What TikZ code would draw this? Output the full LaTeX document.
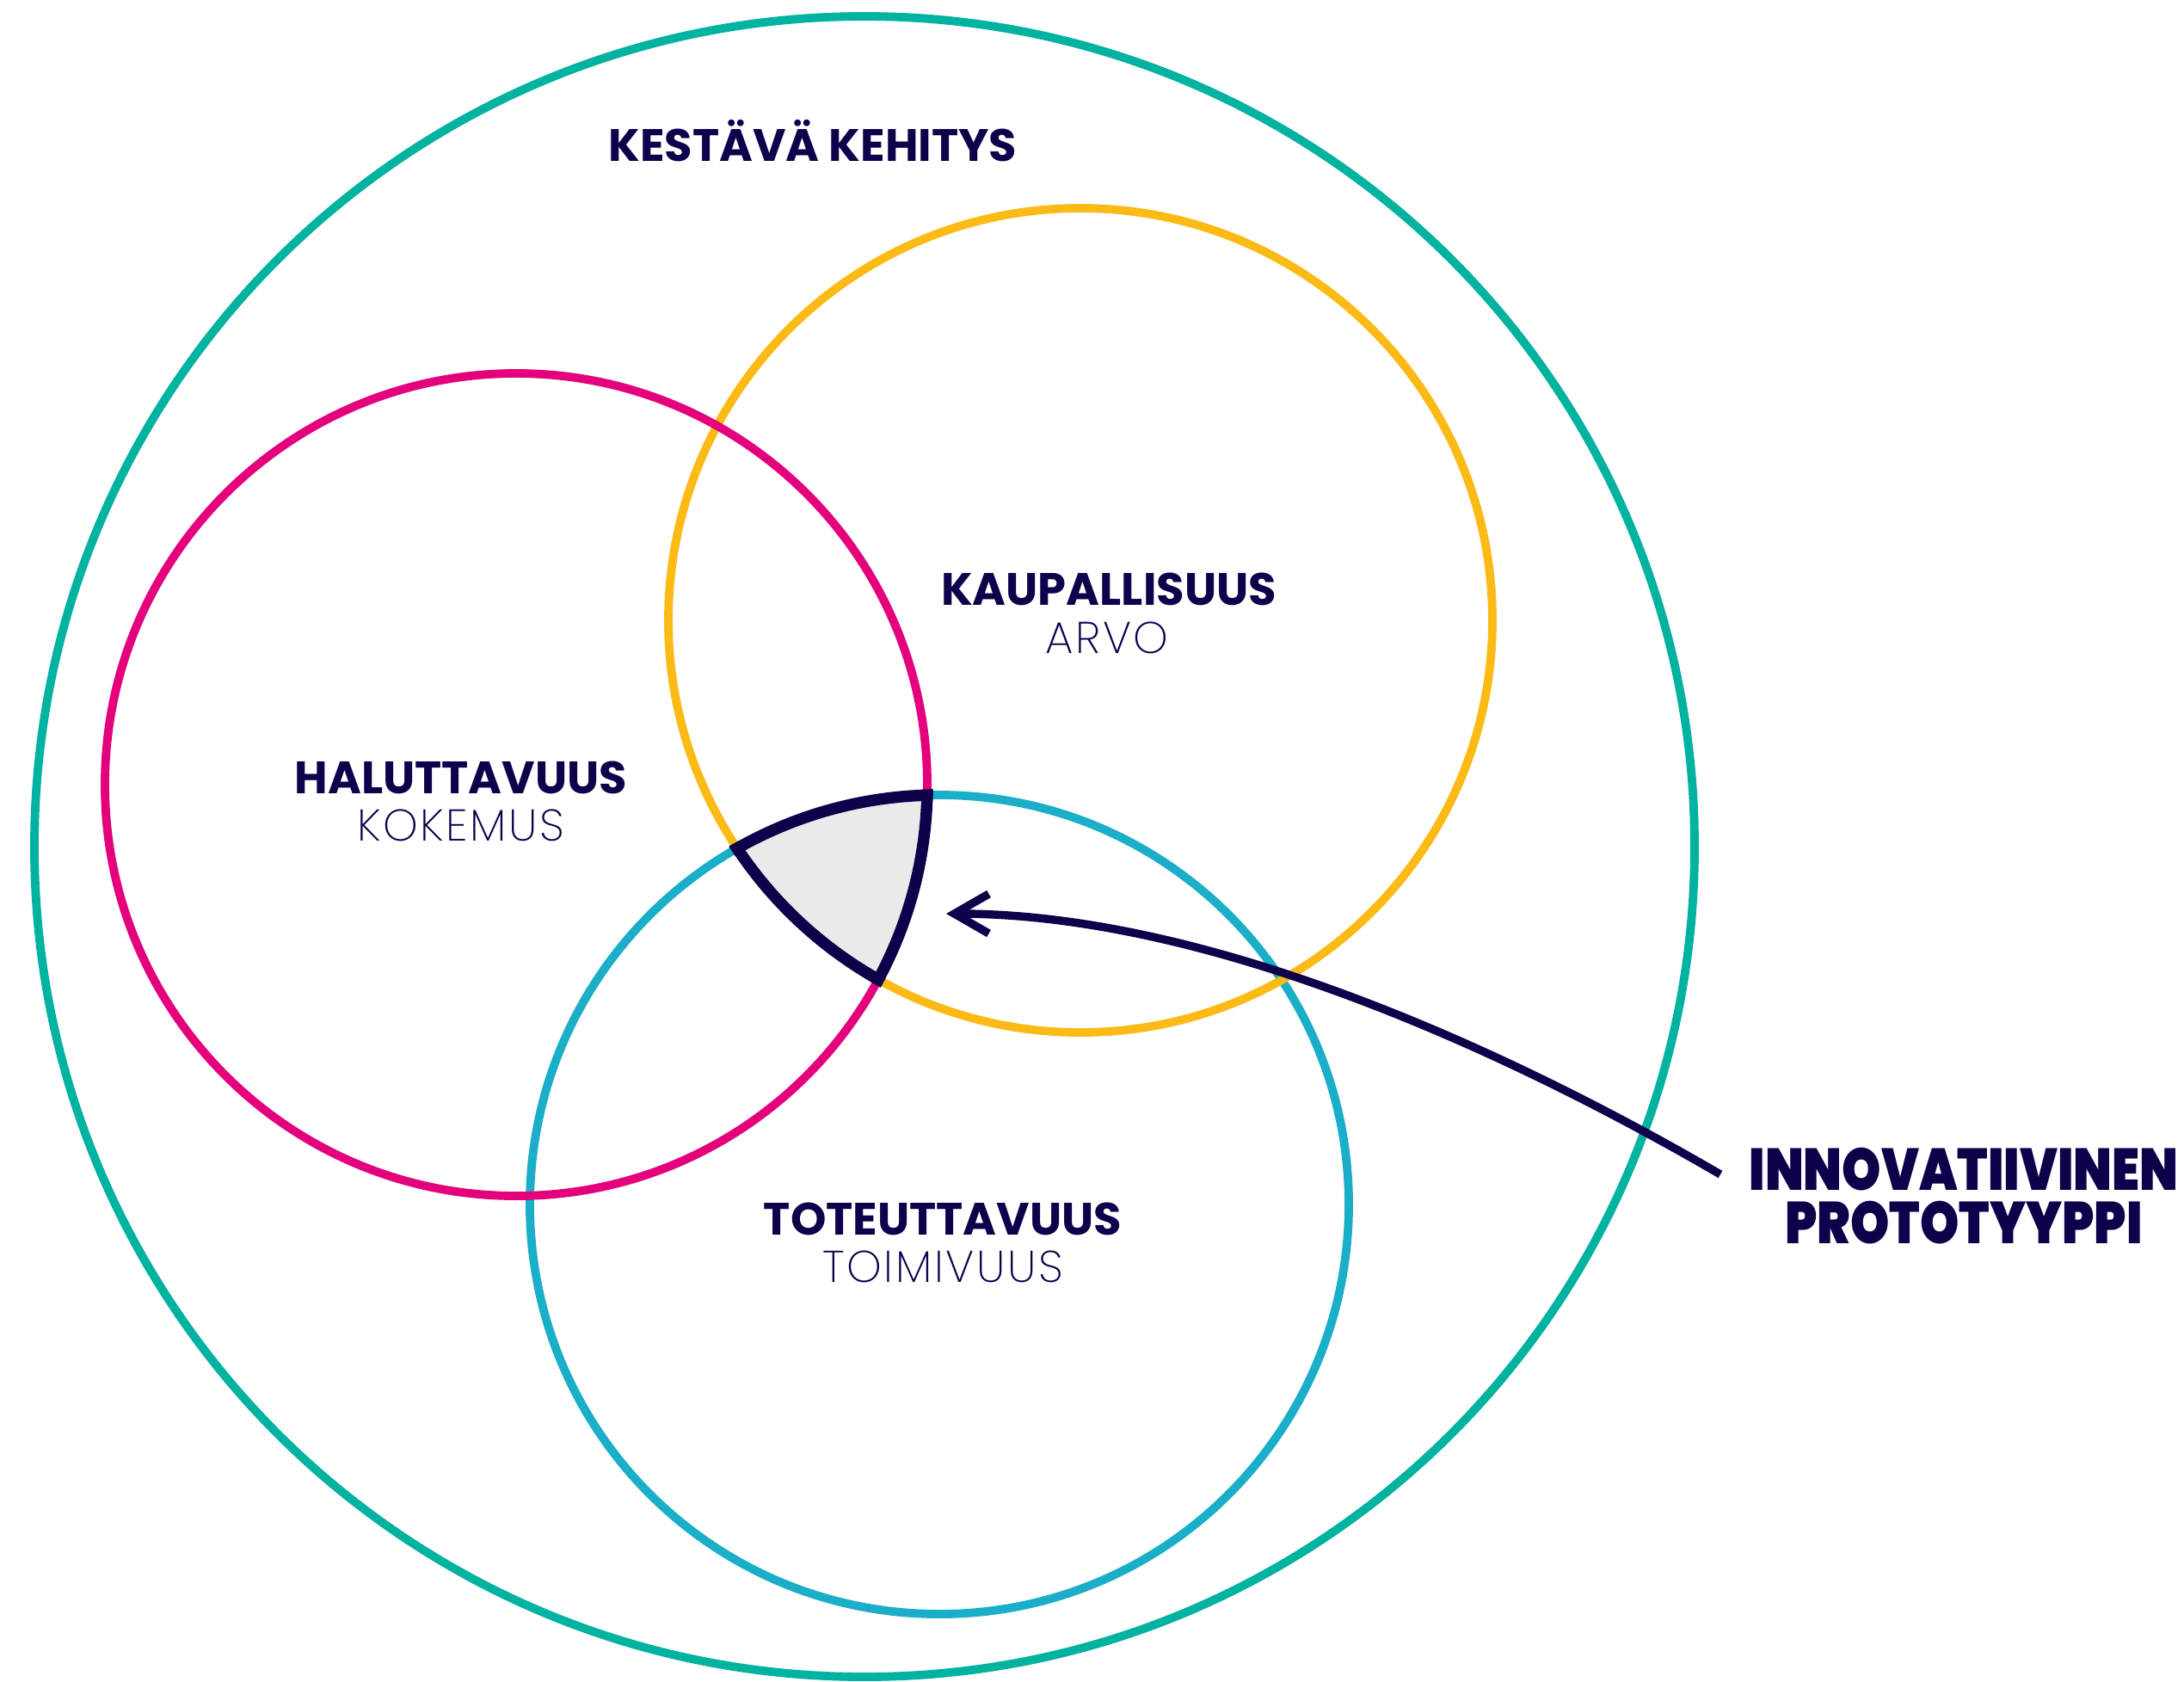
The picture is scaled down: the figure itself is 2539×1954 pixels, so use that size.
\documentclass[tikz,border=0pt]{standalone}
\usepackage{fontspec}
\setmainfont{Poppins}
\newfontfamily\thinfont{Poppins ExtraLight}[LetterSpace=5]
\newfontfamily\heavyfont{Poppins Black}[FakeStretch=0.84]
\usetikzlibrary{arrows.meta}
\definecolor{navy}{RGB}{16,0,75}
\definecolor{teal}{RGB}{0,178,160}
\definecolor{magenta}{RGB}{228,0,125}
\definecolor{sun}{RGB}{251,186,22}
\definecolor{sky}{RGB}{26,174,200}
\definecolor{corefill}{RGB}{234,234,234}
\begin{document}
\begin{tikzpicture}[x=0.01cm,y=-0.01cm,
  ring/.style={line width=2.8pt},
  edge/.style={draw=navy,line width=3.8pt},
  head/.style={text=navy,font=\bfseries\fontsize{15}{18}\selectfont,anchor=base,inner sep=0pt},
  sub/.style={text=navy,font=\thinfont\fontsize{14.7}{18}\selectfont,anchor=base,inner sep=0pt},
  big/.style={text=navy,font=\heavyfont\fontsize{19.5}{17.6}\selectfont,align=center,anchor=base,inner sep=0pt},
  pointer/.style={draw=navy,line width=2.7pt,-{Straight Barb[length=0.4cm,width=0.46cm]}}]
\useasboundingbox (0,0) rectangle (2539,1954);
% circle centres
\coordinate (cK) at (1005,984);
\coordinate (cH) at (600,912);
\coordinate (cA) at (1256,721);
\coordinate (cT) at (1092,1400);
% shared core
\begin{scope}
  \clip (cH) circle (478);
  \clip (cA) circle (479);
  \fill[corefill] (cT) circle (476);
\end{scope}
\draw[ring,teal] (cK) circle (965);
\draw[ring,sky] (cT) circle (476);
\draw[ring,sun] (cA) circle (479);
\draw[ring,magenta] (cH) circle (478);
% core outline
\foreach \p/\rp/\q/\rq/\s/\rs in {cH/478/cA/479/cT/476, cA/479/cT/476/cH/478, cT/476/cH/478/cA/479} {
  \begin{scope}
    \clip (\q) circle (\rq+6.7);
    \clip (\s) circle (\rs+6.7);
    \draw[edge] (\p) circle (\rp);
  \end{scope}
}
% labels
\node[head] (kestava) at (945,187) {KESTÄVÄ KEHITYS};
\node[head] (kaup) at (1289,703) {KAUPALLISUUS};
\node[sub] (arvo) at (1287,759) {ARVO};
\node[head] (halu) at (536,922) {HALUTTAVUUS};
\node[sub] (koke) at (536,977) {KOKEMUS};
\node[head] (tote) at (1096,1435) {TOTEUTTAVUUS};
\node[sub] (toim) at (1096,1490) {TOIMIVUUS};
\node[big] (innov) at (2283,1445) {INNOVATIIVINEN\\PROTOTYYPPI};
% pointer
\coordinate (from) at (2000,1365);
\coordinate (tip) at (1100,1062);
\draw[pointer] (from) .. controls (1742,1215) and (1400,1062) .. (tip);
\end{tikzpicture}
\end{document}
